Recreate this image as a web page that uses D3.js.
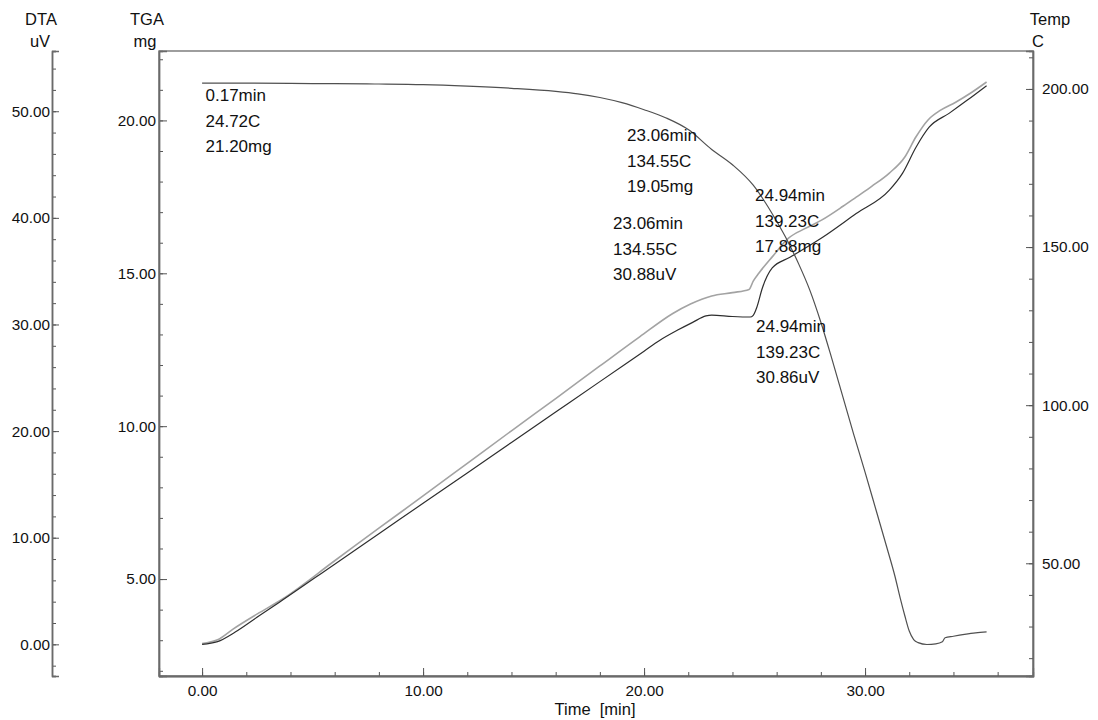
<!DOCTYPE html>
<html>
<head>
<meta charset="utf-8">
<script src="https://cdn.jsdelivr.net/npm/d3@7"></script>
<style>
  body { margin: 0; background: #fff; }
  text { font-family: "Liberation Sans", Arial, sans-serif; fill: #111; }
</style>
</head>
<body>
<div class="graph"></div>
<script>
// data
let tgaMin = [0, 2, 4, 6, 8, 10, 12, 14, 16, 17, 18, 19, 20, 21, 22, 23.06, 24, 24.94, 25.5, 26, 26.5, 27, 27.5, 28, 28.5, 29, 29.5, 30, 30.5, 31, 31.35, 31.6, 31.8, 32.0, 32.2, 32.4, 32.8, 33.2, 33.5, 33.62, 34, 34.5, 35, 35.5]
let tgaMg = [21.22, 21.22, 21.21, 21.2, 21.19, 21.17, 21.12, 21.05, 20.95, 20.87, 20.75, 20.58, 20.35, 20.08, 19.7, 19.05, 18.55, 17.88, 17.3, 16.7, 16.05, 15.3, 14.45, 13.4, 12.2, 10.95, 9.7, 8.5, 7.25, 6.0, 5.1, 4.35, 3.8, 3.3, 3.02, 2.92, 2.86, 2.88, 2.95, 3.08, 3.13, 3.19, 3.24, 3.27]

let tempMin = [0, 0.7, 1.4, 2.5, 3.66, 6, 8, 10, 12, 14, 16, 18, 19.8, 21.3, 22.1, 23.06, 24, 24.75, 24.94, 25.2, 25.8, 26.55, 27.3, 28.05, 29, 29.6, 30.3, 31.1, 31.8, 32.3, 32.85, 33.4, 34.1, 34.8, 35.5]
let tempC = [24.6, 25.8, 29.2, 34.0, 38.8, 50.8, 61.1, 71.3, 81.6, 91.9, 102.1, 112.4, 121.6, 129.0, 132.0, 134.55, 135.6, 136.6, 139.23, 141.8, 146.9, 152.9, 155.9, 158.6, 162.9, 165.8, 169.2, 173.4, 178.5, 184.8, 190.2, 193.2, 195.8, 198.8, 202.2]

let dtaMin = [0, 0.7, 1.5, 2.6, 3.5, 6, 8, 10, 12, 14, 16, 18, 20, 20.7, 21.5, 22.2, 22.8, 23.06, 24, 24.8, 24.94, 25.1, 25.35, 25.8, 26.6, 28.1, 29.6, 31.1, 31.7, 32.3, 32.9, 33.8, 34.6, 35.5]
let dtaUV = [0, 0.25, 1.15, 2.7, 3.95, 7.52, 10.37, 13.23, 16.08, 18.94, 21.79, 24.64, 27.5, 28.5, 29.45, 30.2, 30.8, 30.88, 30.75, 30.7, 30.86, 31.6, 33.4, 35.3, 36.3, 38.2, 40.4, 42.6, 44.2, 46.6, 48.5, 49.8, 51.0, 52.4]

// tick values
let timeTicks = [0, 10, 20, 30]
let timeMinor = d3.range(0, 37, 2)
let tgaTicks = [5, 10, 15, 20]
let tgaMinor = d3.range(2, 23, 1)
let dtaTicks = [0, 10, 20, 30, 40, 50]
let dtaMinor = d3.range(-2, 55, 2)
let tempTicks = [50, 100, 150, 200]
let tempMinor = d3.range(20, 211, 10)

// marked points, label lines for each
let markLines = [
    ["0.17min", "24.72C", "21.20mg"],
    ["23.06min", "134.55C", "19.05mg"],
    ["24.94min", "139.23C", "17.88mg"],
    ["23.06min", "134.55C", "30.88uV"],
    ["24.94min", "139.23C", "30.86uV"]
]

let svgWidth = 1098
let svgHeight = 720

let frame = { left: 159, right: 1033, top: 51, bottom: 676 }
let dtaX = 52

let svg = d3.select('.graph')
    .append('svg')
    .attr('width', svgWidth)
    .attr('height', svgHeight)

// scales
let xScale = d3.scaleLinear().domain([-1.95, 37.6]).range([frame.left, frame.right])
let tgaScale = d3.scaleLinear().domain([1.83, 22.27]).range([frame.bottom, frame.top])
let dtaScale = d3.scaleLinear().domain([-2.97, 55.65]).range([frame.bottom, frame.top])
let tempScale = d3.scaleLinear().domain([14.36, 212.0]).range([frame.bottom, frame.top])

let fmt = d3.format(".2f")

// frame
svg.append('rect')
    .attr('x', frame.left)
    .attr('y', frame.top)
    .attr('width', frame.right - frame.left)
    .attr('height', frame.bottom - frame.top)
    .attr('fill', 'none')
    .attr('stroke', '#6a6a6a')
    .attr('stroke-width', 1.3)

// bottom axis (ticks point inward)
svg.append('g').attr('transform', `translate(0,${frame.bottom})`)
    .call(d3.axisTop(xScale).tickValues(timeMinor).tickSize(4).tickFormat(''))
svg.append('g').attr('transform', `translate(0,${frame.bottom})`)
    .call(d3.axisTop(xScale).tickValues(timeTicks).tickSize(8).tickFormat(''))
svg.append('g').attr('transform', `translate(0,${frame.bottom})`)
    .call(d3.axisBottom(xScale).tickValues(timeTicks).tickSize(0).tickPadding(9).tickFormat(fmt))

// TGA axis on the frame
svg.append('g').attr('transform', `translate(${frame.left},0)`)
    .call(d3.axisRight(tgaScale).tickValues(tgaMinor).tickSize(4).tickFormat(''))
svg.append('g').attr('transform', `translate(${frame.left},0)`)
    .call(d3.axisRight(tgaScale).tickValues(tgaTicks).tickSize(8).tickFormat(''))
svg.append('g').attr('transform', `translate(${frame.left},0)`)
    .call(d3.axisLeft(tgaScale).tickValues(tgaTicks).tickSize(0).tickPadding(3).tickFormat(fmt))

// temperature axis on the right
svg.append('g').attr('transform', `translate(${frame.right},0)`)
    .call(d3.axisLeft(tempScale).tickValues(tempMinor).tickSize(4).tickFormat(''))
svg.append('g').attr('transform', `translate(${frame.right},0)`)
    .call(d3.axisLeft(tempScale).tickValues(tempTicks).tickSize(7).tickFormat(''))
svg.append('g').attr('transform', `translate(${frame.right},0)`)
    .call(d3.axisRight(tempScale).tickValues(tempTicks).tickSize(0).tickPadding(9).tickFormat(fmt))

// DTA axis, free standing on the far left
let dtaG = svg.append('g').attr('transform', `translate(${dtaX},0)`)
dtaG.call(d3.axisRight(dtaScale).tickValues(dtaMinor).tickSize(4).tickFormat(''))
svg.append('g').attr('transform', `translate(${dtaX},0)`)
    .call(d3.axisRight(dtaScale).tickValues(dtaTicks).tickSize(7).tickFormat(''))
svg.append('g').attr('transform', `translate(${dtaX},0)`)
    .call(d3.axisLeft(dtaScale).tickValues(dtaTicks).tickSize(0).tickPadding(2).tickFormat(fmt))

svg.selectAll('.domain').attr('stroke', '#6a6a6a').attr('stroke-width', 1.3)
dtaG.select('.domain').attr('stroke', '#222')
svg.selectAll('.tick line').attr('stroke', '#555')
svg.selectAll('.tick text')
    .style('font-size', '15.3px')
    .style('font-family', '"Liberation Sans", Arial, sans-serif')
    .attr('fill', '#111')

// axis titles
let titles = [
    { t: 'DTA', x: 41, y: 25 }, { t: 'uV', x: 40, y: 47 },
    { t: 'TGA', x: 147, y: 25 }, { t: 'mg', x: 145, y: 47 },
    { t: 'Temp', x: 1050, y: 25 }, { t: 'C', x: 1038, y: 47 },
    { t: 'Time  [min]', x: 595, y: 715 }
]
svg.selectAll('.title')
    .data(titles)
    .join('text')
    .attr('class', 'title')
    .attr('x', d => d.x)
    .attr('y', d => d.y)
    .attr('text-anchor', 'middle')
    .style('font-size', '16.5px')
    .style('white-space', 'pre')
    .text(d => d.t)

// curves
let line = d3.line().curve(d3.curveMonotoneX)

let tgaPts = tgaMin.map((t, i) => [xScale(t), tgaScale(tgaMg[i])])
let tempPts = tempMin.map((t, i) => [xScale(t), tempScale(tempC[i])])
let dtaPts = dtaMin.map((t, i) => [xScale(t), dtaScale(dtaUV[i])])

svg.append('path')
    .attr('d', line(tempPts))
    .attr('fill', 'none')
    .attr('stroke', '#a3a3a3')
    .attr('stroke-width', 1.6)

svg.append('path')
    .attr('d', line(dtaPts))
    .attr('fill', 'none')
    .attr('stroke', '#2e2e2e')
    .attr('stroke-width', 1.2)

svg.append('path')
    .attr('d', line(tgaPts))
    .attr('fill', 'none')
    .attr('stroke', '#505050')
    .attr('stroke-width', 1.2)

// annotation blocks, placed next to their points
let markPos = [
    { x: 205.5, y: 101 },
    { x: 627, y: 141 },
    { x: 755, y: 201 },
    { x: 613, y: 229 },
    { x: 756, y: 332 }
]
markLines.forEach(function(lines, i) {
    let g = svg.append('g')
    lines.forEach(function(s, j) {
        g.append('text')
            .attr('x', markPos[i].x)
            .attr('y', markPos[i].y + j * 25.5)
            .style('font-size', '17px')
            .text(s)
    })
})
</script>
</body>
</html>
